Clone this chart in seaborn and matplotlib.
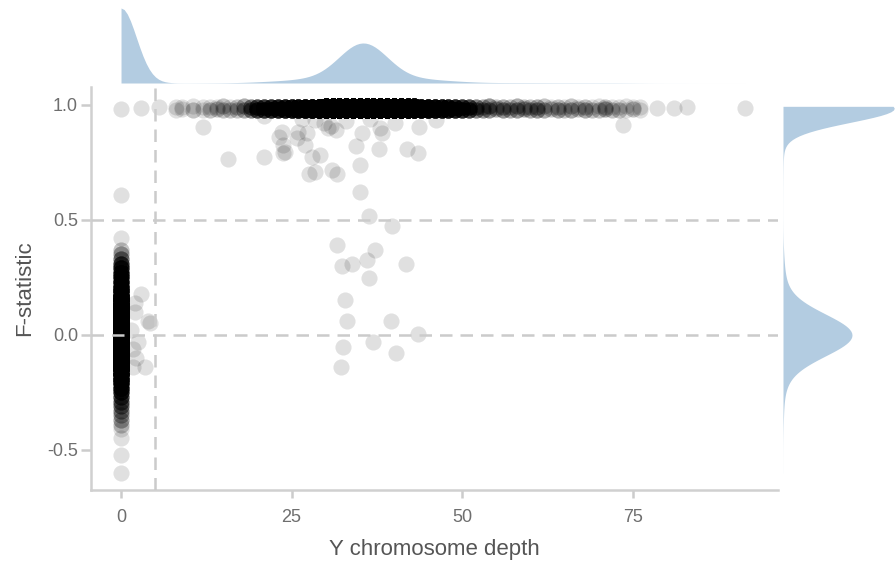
import numpy as np
import pandas as pd
import matplotlib
matplotlib.use("Agg")
import matplotlib.pyplot as plt
import seaborn as sns

# ---------------- data ----------------
# dense cluster at depth ~0 (F-statistic values and multiplicities)
female_y = [0.37, 0.35, 0.33, 0.31, 0.29, 0.27, 0.25, 0.23, 0.21, 0.19,
            0.17, 0.15, 0.13, 0.11, 0.09, 0.07, 0.05, 0.03, 0.01, -0.01,
            -0.03, -0.05, -0.07, -0.09, -0.11, -0.13, -0.15, -0.17, -0.19, -0.21,
            -0.23, -0.25, -0.27, -0.29, -0.31, -0.33, -0.35, -0.37, -0.39, -0.41]
female_n = [2, 3, 5, 9, 12, 14, 16, 19, 23, 30,
            45, 70, 115, 190, 290, 410, 530, 620, 660, 660,
            620, 530, 410, 290, 190, 115, 70, 45, 30, 22,
            16, 12, 8, 6, 5, 4, 3, 3, 2, 1]

# dense band at F ~ 0.98: depth values, two F rows, multiplicities
band_x = [0, 3, 5.5, 8, 9, 10.5, 12, 13, 14, 15, 16, 17, 18, 19,
          20, 21, 22, 23, 24, 25, 26, 27, 28, 29,
          30, 31, 32, 33, 34, 35, 36, 37, 38, 39, 40, 41, 42, 43,
          44, 45, 46, 47, 48, 49, 50, 51,
          52, 53, 54, 55, 56, 57, 58, 59, 60, 61, 62, 63, 64, 65, 66, 67, 68,
          69, 70, 71, 72, 73, 74, 75, 76,
          78.5, 81, 83, 91.5]
band_y_low = [0.982, 0.985, 0.99, 0.978, 0.982, 0.978, 0.98, 0.977, 0.982, 0.978, 0.977, 0.98, 0.977, 0.977,
              0.977, 0.977, 0.977, 0.977, 0.977, 0.977, 0.977, 0.977, 0.977, 0.977,
              0.977, 0.977, 0.977, 0.977, 0.977, 0.977, 0.977, 0.977, 0.977, 0.977, 0.977, 0.977, 0.977, 0.977,
              0.977, 0.977, 0.977, 0.977, 0.977, 0.977, 0.977, 0.977,
              0.978, 0.98, 0.977, 0.982, 0.978, 0.98, 0.977, 0.982, 0.978, 0.98, 0.977, 0.982, 0.978, 0.98, 0.977, 0.982, 0.978,
              0.98, 0.977, 0.982, 0.978, 0.98, 0.977, 0.982, 0.978,
              0.985, 0.985, 0.99, 0.985]
band_y_high = [0.982, 0.985, 0.99, 0.992, 0.99, 0.994, 0.99, 0.993, 0.99, 0.994, 0.992, 0.993, 0.994, 0.993,
               0.993, 0.993, 0.993, 0.993, 0.993, 0.993, 0.993, 0.993, 0.993, 0.993,
               0.994, 0.994, 0.994, 0.994, 0.994, 0.994, 0.994, 0.994, 0.994, 0.994, 0.994, 0.994, 0.994, 0.994,
               0.993, 0.993, 0.993, 0.993, 0.993, 0.993, 0.993, 0.993,
               0.992, 0.99, 0.994, 0.99, 0.992, 0.99, 0.994, 0.99, 0.992, 0.99, 0.994, 0.99, 0.992, 0.99, 0.994, 0.99, 0.992,
               0.99, 0.994, 0.99, 0.992, 0.99, 0.994, 0.99, 0.992,
               0.985, 0.985, 0.99, 0.985]
band_n = [1, 1, 1, 2, 2, 3, 2, 3, 3, 4, 3, 4, 6, 10,
          18, 22, 26, 30, 36, 42, 50, 60, 75, 100,
          140, 220, 350, 520, 650, 700, 700, 650, 520, 350, 220, 140, 95, 75,
          65, 58, 50, 42, 36, 30, 24, 18,
          10, 7, 8, 5, 7, 5, 7, 5, 5, 7, 5, 3, 5, 3, 5, 3, 5,
          3, 3, 5, 3, 3, 2, 3, 2,
          1, 1, 1, 1]

# individual scattered samples
single_x = [0, 0, 0, 0, 0, 2.9, 4.3, 3.9, 3.5, 2.0, 2.0, 2.5, 2.2, 1.7, 1.5, 1.8,
            15.7, 20.9, 23.8, 27.5, 28.5, 30.9, 31.6, 35.0, 35.1, 36.3, 39.7,
            31.6, 32.4, 33.8, 36.0, 37.2, 41.7, 36.3, 32.9, 33.1, 39.6, 43.5,
            32.6, 36.9, 40.3, 32.2,
            12.0, 73.6, 23.6, 23.8, 24.1, 26.0, 27.2, 27.0, 28.0, 29.2,
            30.4, 30.8, 31.5, 29.8, 34.4, 35.3, 37.8, 38.3, 38.0, 41.9, 43.5,
            43.7, 40.2, 46.1, 23.1, 25.8, 33.0, 36.5, 28.5, 26.5, 21.0]
single_y = [0.61, 0.42, -0.45, -0.52, -0.60, 0.18, 0.05, 0.06, -0.14, 0.14, 0.10, -0.03, -0.10, -0.14, 0.02, -0.06,
            0.765, 0.774, 0.79, 0.70, 0.71, 0.716, 0.70, 0.74, 0.62, 0.517, 0.474,
            0.39, 0.30, 0.31, 0.326, 0.37, 0.31, 0.248, 0.152, 0.061, 0.061, 0.004,
            -0.052, -0.03, -0.08, -0.14,
            0.905, 0.913, 0.884, 0.826, 0.797, 0.884, 0.877, 0.826, 0.775, 0.783,
            0.90, 0.91, 0.89, 0.92, 0.82, 0.877, 0.81, 0.877, 0.90, 0.81, 0.79,
            0.906, 0.92, 0.935, 0.862, 0.856, 0.93, 0.94, 0.935, 0.94, 0.95]

x_ticks = [0, 25, 50, 75]
y_ticks = [-0.5, 0.0, 0.5, 1.0]
y_tick_labels = ["-0.5", "0.0", "0.5", "1.0"]
depth_cutoff = 5
f_cutoffs = [0.0, 0.5]

# ---------------- build table ----------------
band_n_arr = np.array(band_n)
n_low = (band_n_arr + 1) // 2
n_high = band_n_arr - n_low
xs = np.concatenate([np.repeat(np.zeros(len(female_y)), female_n),
                     np.repeat(band_x, n_low),
                     np.repeat(band_x, n_high),
                     np.array(single_x)])
ys = np.concatenate([np.repeat(female_y, female_n),
                     np.repeat(band_y_low, n_low),
                     np.repeat(band_y_high, n_high),
                     np.array(single_y)])
df = pd.DataFrame({"depth": xs, "F": ys})

# ---------------- style ----------------
sns.set_theme(style="white")
plt.rcParams["font.family"] = ["Liberation Sans", "DejaVu Sans"]

W, H = 896, 561
fig = plt.figure(figsize=(W / 100, H / 100), dpi=100)
fig.patch.set_facecolor("white")

def frac(l, t, r, b):
    return [l / W, 1 - b / H, (r - l) / W, (b - t) / H]

ax = fig.add_axes(frac(91, 87, 778, 490))
ax_top = fig.add_axes(frac(91, 8, 778, 83), sharex=ax)
ax_right = fig.add_axes(frac(783, 87, 896, 490), sharey=ax)

sns.scatterplot(data=df, x="depth", y="F", ax=ax, color="black", alpha=0.12,
                s=135, linewidth=0, zorder=2)

line_kw = dict(color="#cbcbcb", lw=1.8, dashes=(5, 3.2), zorder=3)
ax.axvline(depth_cutoff, **line_kw)
for yc in f_cutoffs:
    ax.axhline(yc, **line_kw)

ax.set_xlim(-4.4, 96.3)
ax.set_ylim(-0.674, 1.078)
ax.set_xticks(x_ticks)
ax.set_yticks(y_ticks)
ax.set_yticklabels(y_tick_labels)
ax.set_xlabel("Y chromosome depth", fontsize=16, color="#555555", labelpad=9)
ax.set_ylabel("F-statistic", fontsize=16, color="#555555", labelpad=9)
ax.tick_params(axis="both", colors="#cccccc", labelcolor="#6e6e6e", labelsize=13,
               width=1.8, direction="out", bottom=True, left=True)
ax.tick_params(axis="x", length=6, pad=8)
ax.tick_params(axis="y", length=7.3, pad=2)
for side in ["top", "right"]:
    ax.spines[side].set_visible(False)
for side in ["left", "bottom"]:
    ax.spines[side].set_color("#d0d0d0")
    ax.spines[side].set_linewidth(1.8)

fill_color = "#b3cce1"
sns.kdeplot(data=df, x="depth", ax=ax_top, fill=True, cut=0, bw_adjust=0.8,
            color=fill_color, alpha=1, linewidth=0)
sns.kdeplot(data=df, y="F", ax=ax_right, fill=True, cut=0, bw_adjust=0.8,
            color=fill_color, alpha=1, linewidth=0)

# scale marginals
verts = np.concatenate([p.vertices for c in ax_top.collections for p in c.get_paths()])
ax_top.set_ylim(0, verts[:, 1].max())
verts_r = np.concatenate([p.vertices for c in ax_right.collections for p in c.get_paths()])
mask = (verts_r[:, 1] > -0.25) & (verts_r[:, 1] < 0.25)
fpeak = verts_r[mask, 0].max()
ax_right.set_xlim(0, fpeak * 113 / 69)

for a in (ax_top, ax_right):
    a.axis("off")

fig.savefig("out.png", dpi=100, facecolor="white")
